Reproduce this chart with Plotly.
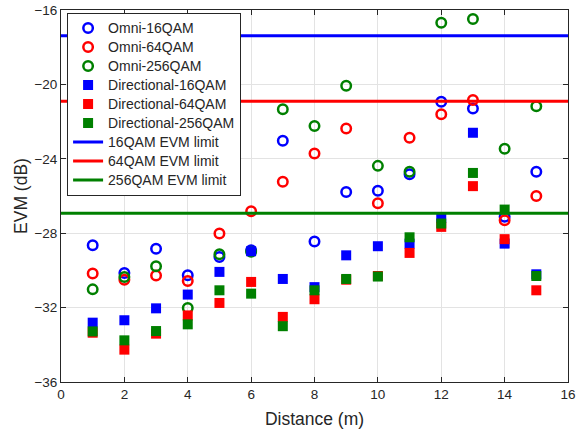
import plotly.graph_objects as go

distance = list(range(1, 16))
omni_16qam = [-28.65, -30.14, -28.83, -30.26, -29.28, -28.92, -23.03, -28.45, -25.78, -25.72, -24.83, -20.93, -21.29, -27.12, -24.70]
omni_64qam = [-30.17, -30.50, -30.28, -30.57, -28.02, -26.82, -25.24, -23.71, -22.37, -26.39, -22.87, -21.60, -20.84, -27.30, -26.00]
omni_256qam = [-31.02, -30.35, -29.78, -32.02, -29.13, -29.00, -21.33, -22.24, -20.07, -24.38, -24.70, -16.68, -16.48, -23.46, -21.17]
dir_16qam = [-32.81, -32.68, -32.04, -31.30, -30.08, -28.97, -30.46, -30.90, -29.19, -28.70, -28.56, -27.18, -22.60, -28.56, -30.21]
dir_64qam = [-33.35, -34.26, -33.40, -32.42, -31.75, -30.62, -32.50, -31.55, -30.50, -30.30, -29.06, -27.66, -25.47, -28.32, -31.07]
dir_256qam = [-33.28, -33.76, -33.26, -32.90, -31.07, -31.25, -33.00, -31.07, -30.46, -30.33, -28.22, -27.48, -24.76, -26.73, -30.30]

limit_x = [0, 16]
limit_16qam = -17.38
limit_64qam = -20.91
limit_256qam = -26.93

BLUE = "#0000ff"
RED = "#ff0000"
GREEN = "#008000"
FONT = "Liberation Sans, Arial, sans-serif"
TXT = "#262626"


def lg(name):
    return '<span style="font-size:14px">' + name + '</span>'


fig = go.Figure()

for name, vals, col in [("Omni-16QAM", omni_16qam, BLUE),
                        ("Omni-64QAM", omni_64qam, RED),
                        ("Omni-256QAM", omni_256qam, GREEN)]:
    fig.add_trace(go.Scatter(x=distance, y=vals, mode="markers", name=lg(name),
                             marker=dict(symbol="circle-open", size=9.5, color=col,
                                         line=dict(width=2.5, color=col))))

for name, vals, col in [("Directional-16QAM", dir_16qam, BLUE),
                        ("Directional-64QAM", dir_64qam, RED),
                        ("Directional-256QAM", dir_256qam, GREEN)]:
    fig.add_trace(go.Scatter(x=distance, y=vals, mode="markers", name=lg(name),
                             marker=dict(symbol="square", size=10, color=col,
                                         line=dict(width=0))))

for name, val, col in [("16QAM EVM limit", limit_16qam, BLUE),
                       ("64QAM EVM limit", limit_64qam, RED),
                       ("256QAM EVM limit", limit_256qam, GREEN)]:
    fig.add_trace(go.Scatter(x=limit_x, y=[val, val], mode="lines", name=lg(name),
                             line=dict(color=col, width=3)))

axis_common = dict(showline=True, linecolor=TXT, linewidth=1, mirror="ticks",
                   ticks="inside", ticklen=5, tickwidth=1, tickcolor=TXT,
                   showgrid=True, gridcolor="#e3e3e3", gridwidth=1, zeroline=False,
                   automargin=False,
                   tickfont=dict(family=FONT, size=13.5, color=TXT))

fig.update_layout(
    width=577, height=435,
    margin=dict(l=61, r=9, t=10, b=53, autoexpand=False),
    paper_bgcolor="white", plot_bgcolor="white",
    font=dict(family=FONT, size=14, color=TXT),
    xaxis=dict(range=[0, 16], dtick=2, tick0=0,
               title=dict(text="Distance (m)", font=dict(family=FONT, size=17.5, color=TXT), standoff=11),
               **axis_common),
    yaxis=dict(range=[-36, -16], dtick=4, tick0=-36,
               title=dict(text="EVM (dB)", font=dict(family=FONT, size=17.5, color=TXT), standoff=2),
               **axis_common),
    legend=dict(x=0.012, y=0.993, xanchor="left", yanchor="top",
                bgcolor="white", bordercolor=TXT, borderwidth=1,
                font=dict(family=FONT, size=12, color=TXT),
                tracegroupgap=0, itemwidth=30),
    showlegend=True,
)

fig.write_html("out.html", config={"displayModeBar": False},
               post_script="document.body.style.margin='0';document.body.style.overflow='hidden';")
